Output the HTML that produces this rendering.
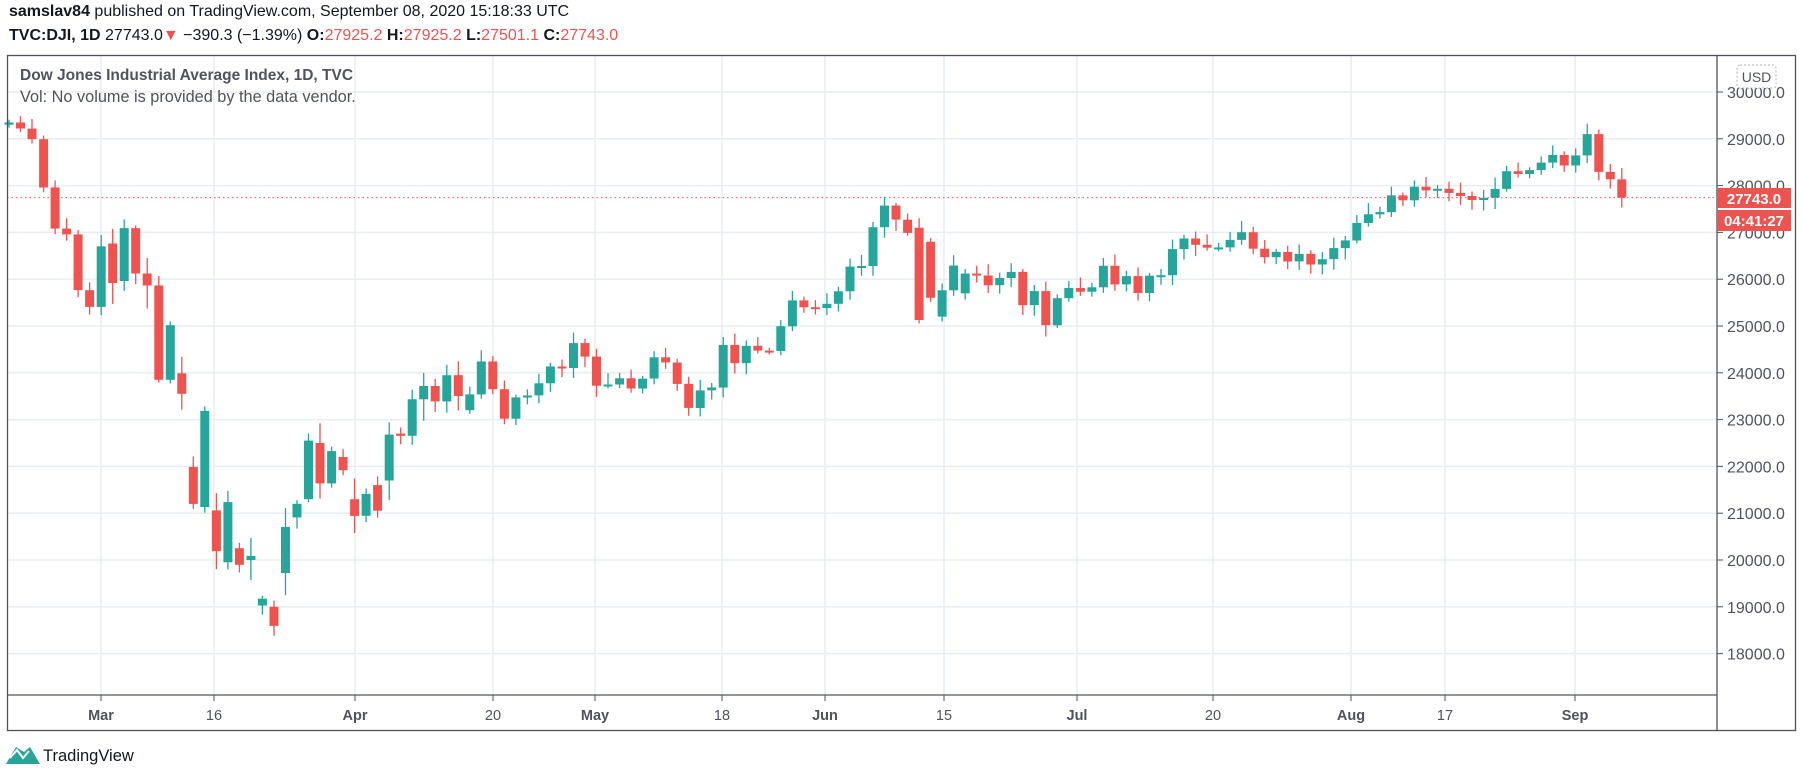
<!DOCTYPE html>
<html><head><meta charset="utf-8">
<style>
html,body{margin:0;padding:0;background:#fff;width:1805px;height:778px;overflow:hidden;font-family:"Liberation Sans",sans-serif;}
.t{position:absolute;white-space:nowrap;color:#131722;}
</style></head><body>
<div class="t" style="left:9px;top:3px;font-size:16px;"><b>samslav84</b> published on TradingView.com, September 08, 2020 15:18:33 UTC</div>
<div class="t" style="left:9px;top:27px;font-size:16px;"><b>TVC:DJI, 1D</b> 27743.0<span style="color:#ef5350">▼</span> −390.3 (−1.39%) <b>O:</b><span style="color:#ef5350">27925.2</span> <b>H:</b><span style="color:#ef5350">27925.2</span> <b>L:</b><span style="color:#ef5350">27501.1</span> <b>C:</b><span style="color:#ef5350">27743.0</span></div>
<svg id="c" width="1805" height="778" style="position:absolute;left:0;top:0" xmlns="http://www.w3.org/2000/svg"></svg>
<div class="t" style="left:20px;top:67px;font-size:15.5px;font-weight:bold;color:#50535e;">Dow Jones Industrial Average Index, 1D, TVC</div>
<div class="t" style="left:20px;top:88px;font-size:16.3px;color:#50535e;">Vol: No volume is provided by the data vendor.</div>
<script>
var s=document.getElementById('c'),h='';
function Y(p){return 92+(30000-p)*0.0468;}
var vx=[101,214,355,493,595,722,825,944,1077,1213,1351,1445,1575];
var vl=['Mar','16','Apr','20','May','18','Jun','15','Jul','20','Aug','17','Sep'];
var vb=[1,0,1,0,1,0,1,0,1,0,1,0,1];
for(var p=18000;p<=30000;p+=1000){var y=Y(p).toFixed(1);h+='<line x1="7" x2="1717" y1="'+y+'" y2="'+y+'" stroke="#e6edf3" stroke-width="1.5"/>';
h+='<line x1="1717" x2="1723" y1="'+y+'" y2="'+y+'" stroke="#50535e"/>';
h+='<text x="1727" y="'+(+y+6)+'" font-size="16" fill="#50535e" font-family="Liberation Sans">'+p+'.0</text>';}
for(var i=0;i<vx.length;i++){h+='<line x1="'+vx[i]+'" x2="'+vx[i]+'" y1="55" y2="695" stroke="#e6edf3" stroke-width="1.5"/>';
h+='<line x1="'+vx[i]+'" x2="'+vx[i]+'" y1="695" y2="701" stroke="#50535e"/>';
h+='<text x="'+vx[i]+'" y="720" text-anchor="middle" font-size="14.5" fill="#50535e" font-family="Liberation Sans"'+(vb[i]?' font-weight="bold"':'')+'>'+vl[i]+'</text>';}
var C=[29348,29219,28992,27961,27081,26957,25766,25409,
26703,25917,27091,26121,25865,23851,25018,23553,21200,23186,20189,21237,19899,20087,19174,18592,20705,21200,22552,21637,22327,21917,
20944,21413,21053,22680,22654,23434,23719,23390,23949,23504,23538,24242,23650,23019,23475,23516,23775,24134,24101,24634,24346,
23724,23750,23883,23664,23875,24331,24221,23764,23248,23625,23685,24597,24207,24576,24474,24465,24995,25548,25401,25383,
25475,25742,26270,26282,27111,27572,27272,26990,25128,25606,25763,26290,26120,26080,25871,26025,26156,25445,25745,25016,25595,25813,
25734,25827,26287,25890,26067,25706,26075,26086,26643,26870,26735,26672,26680,26840,27005,26652,26470,26584,26379,26540,26314,26428,
26664,26828,27201,27387,27433,27791,27687,27977,27897,27931,27844,27778,27692,27739,27930,28308,28249,28332,28492,28654,28430,
28645,29100,28292,28133,27743];
var O={8:25409,9:26762,10:25960,15:23990,16:21990,17:21130,18:21060,19:19950,20:20253,21:20000,22:19028,23:19000,24:19722,25:20910,26:21300,27:22500,29:22200,
30:21300,32:21600,33:21700,34:22700,40:23200,79:27100,80:26800,81:25200,83:25700,141:28300,142:28900,143:29100,144:28300,145:27925};
var x0=9,dx=11.52;
for(var i=0;i<C.length;i++){
 var c=C[i],o=(O[i]!==undefined)?O[i]:(i?C[i-1]:29300);
 var up=c>=o,col=up?'#26a69a':'#ef5350';
 var hi=Math.max(o,c)+60+((i*37)%11)*18+(i>8&&i<40?200:0)*((i*7)%3==0?1:0);
 var lo=Math.min(o,c)-60-((i*53)%13)*15-(i>8&&i<40?250:0)*((i*5)%3==0?1:0);
 if(i==145){hi=27925;lo=27501;}
 var x=x0+i*dx;if(x<8)continue;
 h+='<line x1="'+x.toFixed(1)+'" x2="'+x.toFixed(1)+'" y1="'+Y(hi).toFixed(1)+'" y2="'+Y(lo).toFixed(1)+'" stroke="'+col+'" stroke-width="1.3"/>';
 var t=Y(Math.max(o,c)),b=Y(Math.min(o,c));if(b-t<2){b=t+2;}
 h+='<rect x="'+(x-4.5).toFixed(1)+'" y="'+t.toFixed(1)+'" width="9" height="'+(b-t).toFixed(1)+'" fill="'+col+'"/>';
}
var py=Y(27743).toFixed(1);
h+='<line x1="7" x2="1717" y1="'+py+'" y2="'+py+'" stroke="#ef5350" stroke-dasharray="1.5,3"/>';
h+='<rect x="7.5" y="55.5" width="1788" height="675" fill="none" stroke="#50535e" stroke-width="1.3"/>';
h+='<line x1="1717" x2="1717" y1="55" y2="731" stroke="#50535e" stroke-width="1.3"/>';
h+='<line x1="7" x2="1717" y1="695" y2="695" stroke="#50535e" stroke-width="1.3"/>';
h+='<rect x="1737" y="65" width="39" height="23" rx="3" fill="#fff" stroke="#b2b5be" stroke-dasharray="2,2"/>';
h+='<text x="1756.5" y="82" text-anchor="middle" font-size="14" fill="#50535e" font-family="Liberation Sans">USD</text>';
h+='<rect x="1717" y="188" width="74" height="20" fill="#ef5350"/>';
h+='<text x="1754" y="204" text-anchor="middle" font-size="15" font-weight="bold" fill="#fff" font-family="Liberation Sans">27743.0</text>';
h+='<rect x="1717" y="210" width="74" height="21" fill="#ef5350"/>';
h+='<text x="1754" y="226" text-anchor="middle" font-size="15" font-weight="bold" fill="#fff" font-family="Liberation Sans">04:41:27</text>';
h+='<path d="M6 764 L16 747 L24 752 L30 747 L40 764 Z" fill="#26a69a"/><path d="M10 758 L17 750 L23 758 L29 751" stroke="#fff" stroke-width="2" fill="none"/>';
h+='<text x="43" y="761" font-size="16.5" fill="#131722" font-family="Liberation Sans">TradingView</text>';
s.innerHTML=h;
</script>
</body></html>
